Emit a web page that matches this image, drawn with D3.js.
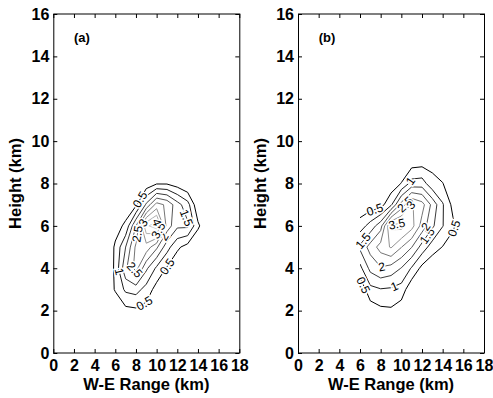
<!DOCTYPE html>
<html>
<head>
<meta charset="utf-8">
<script src="https://cdn.jsdelivr.net/npm/d3@7/dist/d3.min.js"></script>
<style>
  body { margin: 0; background: #fff; }
  text { font-family: Arial, "Liberation Sans", sans-serif; }
</style>
</head>
<body>
<div id="chart"></div>
<script>
// axes
const xTicks = [0, 2, 4, 6, 8, 10, 12, 14, 16, 18];
const yTicks = [0, 2, 4, 6, 8, 10, 12, 14, 16];
const levels = [0.5, 1, 1.5, 2, 2.5, 3, 3.5, 4];

// panel (a): grid columns (km), rows (km), values by row
const gridXA = [5, 6, 7, 8, 9, 10, 11, 12, 13, 14, 15];
const gridYA = [1, 2, 3, 4, 5, 6, 7, 8, 9];
const zA = [
  [0, 0,    0,    0,    0,    0,    0,    0,    0,    0,    0],
  [0, 0,    0.35, 0.4,  0.3,  0,    0,    0,    0,    0,    0],
  [0, 0.56, 1.1,  1.2,  0.8,  0.3,  0,    0,    0,    0,    0],
  [0, 0.6,  1.9,  2.7,  1.6,  0.9,  0.45, 0.1,  0,    0,    0],
  [0, 0.58, 1.5,  2.6,  2.8,  2.1,  1.2,  0.6,  0.3,  0,    0],
  [0, 0.3,  0.6,  2.0,  3.9,  4.3,  2.3,  1.6,  1.6,  0.6,  0],
  [0, 0,    0.2,  0.4,  1.6,  2.7,  2.4,  1.7,  1.2,  0.1,  0],
  [0, 0,    0,    0,    0.15, 0.45, 0.45, 0.25, 0,    0,    0],
  [0, 0,    0,    0,    0,    0,    0,    0,    0,    0,    0]
];
// contour labels: [level, x, y]
const labelsA = [
  [0.5, 8.2, 7.3], [0.5, 10.8, 4.15], [0.5, 8.9, 2.27], [1, 6.3, 3.84],
  [1.5, 12.8, 6.36], [2, 11.0, 5.4], [2.5, 7.6, 3.8], [2.5, 8.4, 5.6],
  [3, 9.2, 6.0], [3.5, 9.7, 5.9], [4, 10.2, 6.2]
];

// panel (b)
const gridXB = [6, 7, 8, 9, 10, 11, 12, 13, 14, 15, 16];
const gridYB = [1, 2, 3, 4, 5, 6, 7, 8, 9, 10];
const zB = [
  [0,    0,    0,    0,    0,    0,    0,    0,    0,    0,    0],
  [0,    0.2,  0.38, 0.42, 0.2,  0,    0,    0,    0,    0,    0],
  [0.1,  0.85, 0.97, 0.93, 0.8,  0.1,  0,    0,    0,    0,    0],
  [0.85, 1.65, 1.95, 1.8,  1.48, 0.95, 0.35, 0.1,  0,    0,    0],
  [1.6,  2.2,  2.7,  3.05, 2.52, 2.02, 1.3,  0.75, 0.48, 0.2,  0],
  [0.75, 1.2,  1.8,  3.6,  3.7,  3.2,  2.3,  1.6,  1.02, 0.6,  0.05],
  [0.1,  0.2,  0.3,  0.9,  2.2,  3.05, 2.7,  1.85, 1.05, 0.35, 0],
  [0,    0,    0.05, 0.17, 0.52, 1.2,  1.25, 0.65, 0.52, 0.1,  0],
  [0,    0,    0,    0,    0.05, 0.25, 0.3,  0.35, 0.1,  0,    0],
  [0,    0,    0,    0,    0,    0,    0,    0,    0,    0,    0]
];
const labelsB = [
  [0.5, 7.45, 6.75], [0.5, 15.0, 5.9], [0.5, 5.9, 3.1], [1, 9.2, 3.3],
  [1, 11.0, 8.08], [1.5, 7.0, 5.0], [1.5, 12.3, 5.6], [2, 8.1, 4.07],
  [2, 12.4, 5.95], [2.5, 10.4, 7.0], [3, 11.0, 6.95], [3.5, 9.55, 6.12]
];

const W = 493, H = 398;
const marginTop = 14, plotW = 186, plotH = 339;

const svg = d3.select('#chart').append('svg')
  .attr('width', W)
  .attr('height', H);

const grey = d3.scaleLinear().domain([0.5, 4]).range(['#000000', '#cccccc']);

const panels = [
  { tag: '(a)', left: 53.3, gx: gridXA, gy: gridYA, z: zA, labels: labelsA },
  { tag: '(b)', left: 298, gx: gridXB, gy: gridYB, z: zB, labels: labelsB }
];

function drawPanel(p, idx) {
  const g = svg.append('g').attr('transform', 'translate(' + p.left + ',' + marginTop + ')');
  const x = d3.scaleLinear().domain([0, 18]).range([0, plotW]);
  const y = d3.scaleLinear().domain([0, 16]).range([plotH, 0]);

  // pad the grid by repeating its edges, so lines end at the data border
  const n = p.gx.length, m = p.gy.length;
  const N = n + 2, M = m + 2;
  const vals = new Array(N * M);
  for (let j = 0; j < M; j++) {
    for (let i = 0; i < N; i++) {
      const jj = Math.min(m - 1, Math.max(0, j - 1));
      const ii = Math.min(n - 1, Math.max(0, i - 1));
      vals[j * N + i] = p.z[jj][ii];
    }
  }
  const dx = p.gx[1] - p.gx[0], dy = p.gy[1] - p.gy[0];
  const proj = pt => [x(p.gx[0] + (pt[0] - 1.5) * dx), y(p.gy[0] + (pt[1] - 1.5) * dy)];
  const contours = d3.contours().size([N, M]).thresholds(levels)(vals);

  const cx0 = x(p.gx[0]), cx1 = x(p.gx[n - 1]);
  const cy0 = y(p.gy[m - 1]), cy1 = y(p.gy[0]);
  g.append('clipPath').attr('id', 'clip' + idx)
    .append('rect')
    .attr('x', cx0).attr('y', cy0)
    .attr('width', cx1 - cx0).attr('height', cy1 - cy0);

  const line = d3.line();
  const cg = g.append('g').attr('clip-path', 'url(#clip' + idx + ')');
  const ringsByLevel = {};
  contours.forEach(c => {
    const rings = c.coordinates.flat().map(r => r.map(proj));
    ringsByLevel[c.value] = rings;
    rings.forEach(r => {
      cg.append('path')
        .attr('d', line(r))
        .attr('fill', 'none')
        .attr('stroke', grey(c.value))
        .attr('stroke-width', 1);
    });
  });

  // contour labels, snapped onto their line and turned along it
  p.labels.forEach(l => {
    const rings = ringsByLevel[l[0]] || [];
    const tx = x(l[1]), ty = y(l[2]);
    let best = null;
    rings.forEach(r => {
      for (let k = 0; k < r.length - 1; k++) {
        const a = r[k], b = r[k + 1];
        const vx = b[0] - a[0], vy = b[1] - a[1];
        const len2 = vx * vx + vy * vy;
        if (len2 === 0) continue;
        let t = ((tx - a[0]) * vx + (ty - a[1]) * vy) / len2;
        t = Math.max(0, Math.min(1, t));
        const px = a[0] + t * vx, py = a[1] + t * vy;
        if (px < cx0 || px > cx1 || py < cy0 || py > cy1) continue;
        const d = (px - tx) * (px - tx) + (py - ty) * (py - ty);
        if (!best || d < best.d) best = { d: d, x: px, y: py, ang: Math.atan2(vy, vx) * 180 / Math.PI };
      }
    });
    if (!best) return;
    let ang = best.ang;
    if (ang > 90) ang -= 180;
    if (ang < -90) ang += 180;
    g.append('text')
      .attr('transform', 'translate(' + best.x + ',' + best.y + ') rotate(' + ang + ')')
      .attr('text-anchor', 'middle')
      .attr('dy', '0.35em')
      .attr('font-size', 12)
      .attr('fill', '#000')
      .attr('stroke', '#fff')
      .attr('stroke-width', 3)
      .attr('paint-order', 'stroke')
      .text(l[0]);
  });

  // axes with inward ticks on all four sides
  const bottom = g.append('g').attr('transform', 'translate(0,' + plotH + ')')
    .call(d3.axisBottom(x).tickValues(xTicks).tickSize(-4).tickPadding(7));
  const left = g.append('g')
    .call(d3.axisLeft(y).tickValues(yTicks).tickSize(-4).tickPadding(4));
  g.append('g')
    .call(d3.axisTop(x).tickValues(xTicks).tickSize(-4).tickFormat(''));
  g.append('g').attr('transform', 'translate(' + plotW + ',0)')
    .call(d3.axisRight(y).tickValues(yTicks).tickSize(-4).tickFormat(''));
  g.selectAll('.domain').remove();
  g.selectAll('.tick line').attr('stroke', '#000');
  [bottom, left].forEach(a => a.selectAll('text')
    .attr('font-size', 16)
    .attr('font-weight', 'bold')
    .attr('font-family', 'Arial, "Liberation Sans", sans-serif')
    .attr('fill', '#000'));

  g.append('rect')
    .attr('x', 0.5).attr('y', 0)
    .attr('width', plotW).attr('height', plotH)
    .attr('fill', 'none')
    .attr('stroke', '#000')
    .attr('stroke-width', 1);

  g.append('text')
    .attr('x', 20.7).attr('y', 28)
    .attr('font-size', 13)
    .attr('font-weight', 'bold')
    .text(p.tag);

  g.append('text')
    .attr('x', plotW / 2).attr('y', 376)
    .attr('text-anchor', 'middle')
    .attr('font-size', 16.5)
    .attr('font-weight', 'bold')
    .text('W-E Range (km)');

  g.append('text')
    .attr('transform', 'translate(-32.5,' + (plotH / 2) + ') rotate(-90)')
    .attr('text-anchor', 'middle')
    .attr('font-size', 16.5)
    .attr('font-weight', 'bold')
    .text('Height (km)');
}

panels.forEach(drawPanel);
</script>
</body>
</html>
